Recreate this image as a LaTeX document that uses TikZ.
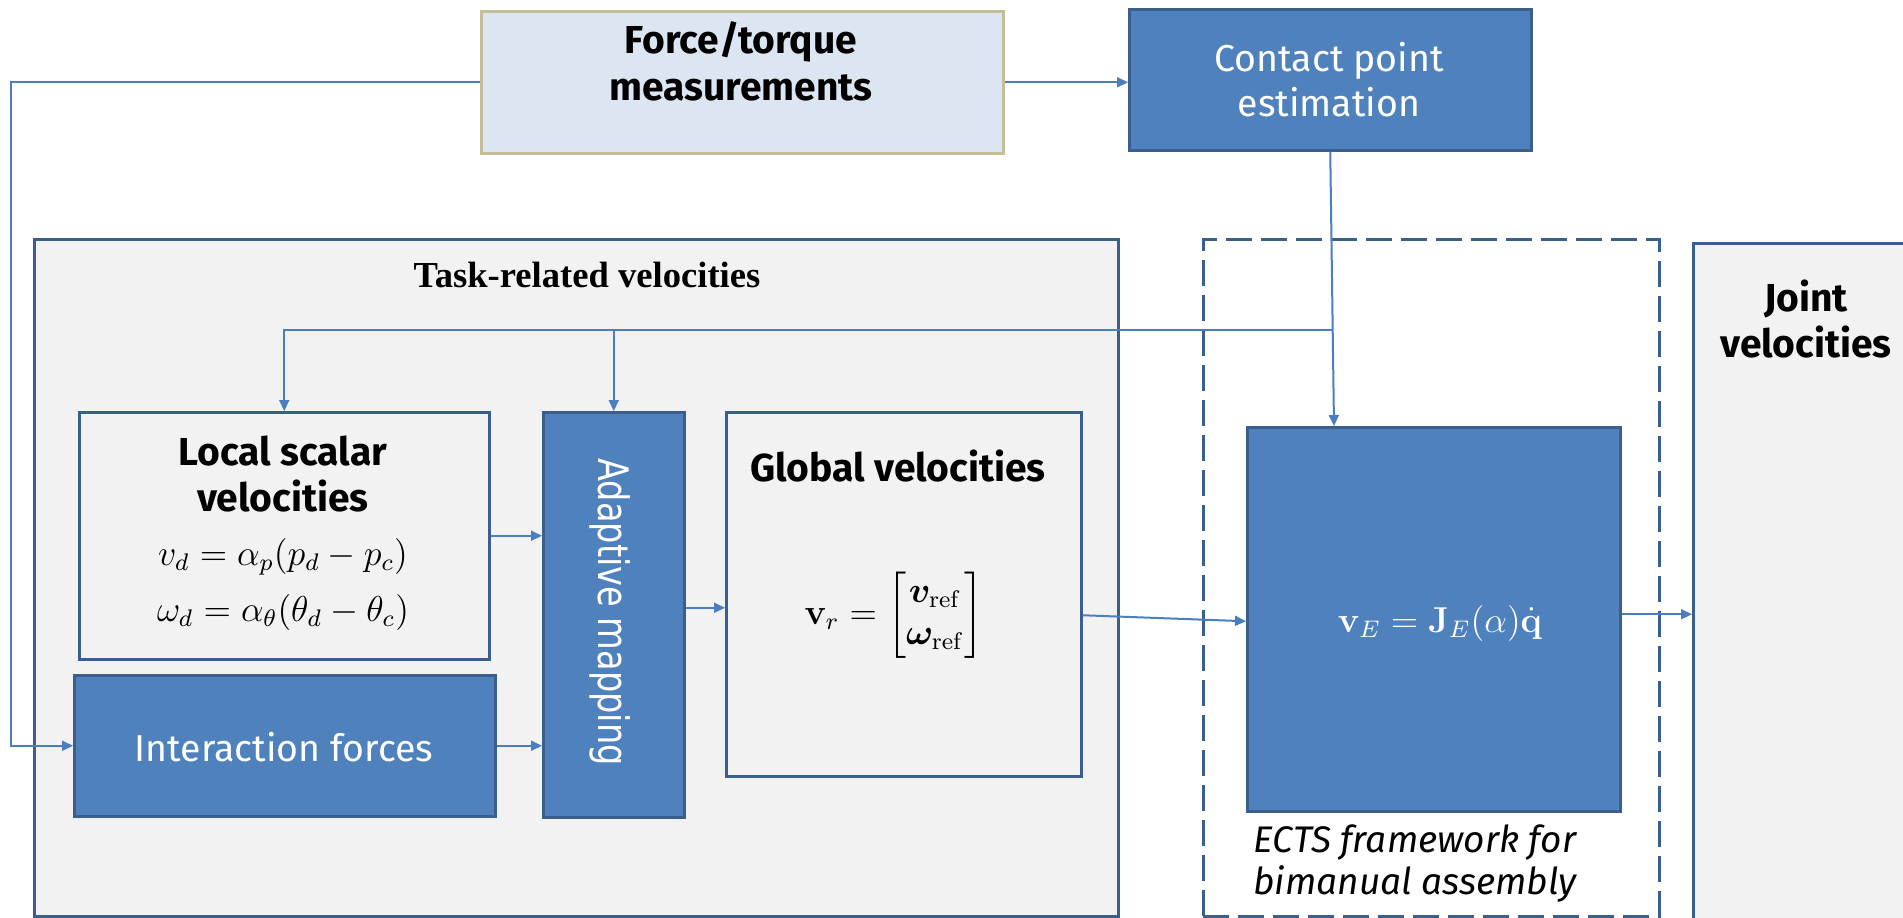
\documentclass[tikz,border=0pt]{standalone}
\usepackage{amsmath,bm}
\usepackage[no-math]{fontspec}
\newfontfamily\ufont{Fira Sans}
\newfontfamily\dvfont{DejaVu Sans}
\newfontfamily\serifbold{Liberation Serif}
\usetikzlibrary{arrows.meta,calc}
\definecolor{bfill}{HTML}{4F81BD}
\definecolor{frame}{HTML}{3A5F8D}
\definecolor{conncol}{HTML}{4A7EC0}
\definecolor{graybg}{HTML}{F2F2F2}
\definecolor{lightfill}{HTML}{DCE6F2}
\definecolor{tan}{HTML}{C4BD97}
\tikzset{
  box/.style={draw=frame, line width=2.5pt, inner sep=0pt, anchor=north west},
  bluebox/.style={box, fill=bfill},
  graybox/.style={box, fill=graybg},
  ttl/.style={font=\ufont\bfseries\fontsize{39}{46}\selectfont, align=center, inner sep=0pt},
  wtxt/.style={font=\ufont\fontsize{37.5}{45}\selectfont, align=center, inner sep=0pt, text=white},
  mth/.style={font=\fontsize{12}{14}\selectfont, inner sep=0pt, scale=3},
  conn/.style={draw=conncol, line width=2pt, -{Triangle[length=11pt,width=10pt]}},
}
\begin{document}
\begin{tikzpicture}[x=1pt,y=-1pt]
\useasboundingbox (0,0) rectangle (1903,918);
\clip (0,0) rectangle (1903,918);
% big frames
\node[graybox, minimum width=1084, minimum height=677] (task) at (33,238) {};
\node[box, dash pattern=on 26pt off 9pt, minimum width=456, minimum height=677] (dash) at (1202,238) {};
\node[graybox, minimum width=240, minimum height=700] (joint) at (1692,242) {};
% top boxes
\node[box, draw=tan, fill=lightfill, minimum width=522, minimum height=142] (force) at (480,10) {};
\node[bluebox, minimum width=402, minimum height=141] (contact) at (1128,8) {};
% inner boxes
\node[graybox, minimum width=410, minimum height=247] (local) at (78,411) {};
\node[bluebox, minimum width=421, minimum height=141] (inter) at (73,674) {};
\node[bluebox, minimum width=141, minimum height=405] (adapt) at (542,411) {};
\node[graybox, minimum width=355, minimum height=364] (global) at (725,411) {};
\node[bluebox, minimum width=373, minimum height=384] (ects) at (1246,426) {};
% texts
\node[font=\ufont\bfseries\fontsize{39}{47}\selectfont, align=center, inner sep=0pt] (forcetxt) at (741,61) {Force/torque\\measurements};
\node[wtxt] (contacttxt) at (1329,80) {Contact point\\estimation};
\node[font=\serifbold\bfseries\fontsize{36.6}{40}\selectfont, inner sep=0pt] (tasktxt) at (587,275) {Task-related velocities};
\node[ttl] (localtxt) at (283,474) {Local scalar\\velocities};
\node[mth] (eq1) at (283,557) {$v_d = \alpha_p(p_d - p_c)$};
\node[mth] (eq2) at (283,612) {$\omega_d = \alpha_\theta(\theta_d - \theta_c)$};
\node[wtxt] (intertxt) at (284,747) {Interaction forces};
\node[font=\dvfont\fontsize{42}{48}\selectfont, text=white, rotate=-90, xscale=0.8, inner sep=0pt] (adapttxt) at (610,612) {Adaptive mapping};
\node[ttl] (globaltxt) at (898,466) {Global velocities};
\node[mth] (geq) at (894,615) {$\mathbf{v}_r = \begin{bmatrix}\bm{v}_{\mathrm{ref}}\\ \bm{\omega}_{\mathrm{ref}}\end{bmatrix}$};
\node[mth, text=white] (eeq) at (1440,623) {$\mathbf{v}_E = \mathbf{J}_E(\alpha)\dot{\mathbf{q}}$};
\node[font=\ufont\itshape\fontsize{37}{42}\selectfont, align=center, inner sep=0pt] (ectstxt) at (1415,864) {ECTS framework for\\bimanual assembly};
\node[ttl] (jointtxt) at (1806,319) {Joint\\velocities};
% connectors
\coordinate (fbx) at (11,400);
\draw[conn] (force.west) -| (fbx) |- (inter.west);
\draw[conn] (force.east) -- (contact.west |- force.east);
\coordinate (cpin) at ($(ects.north west)+(88,0)$);
\draw[conn] (contact.south) -- (cpin);
\coordinate (jn) at ($(contact.south)!0.652!(cpin)$);
\draw[conn] (jn) -| (local.north);
\draw[conn] (adapt.north |- jn) -- (adapt.north);
\draw[conn] (local.east) -- (adapt.west |- local.east);
\draw[conn] (inter.east) -- (adapt.west |- inter.east);
\draw[conn] ([yshift=7pt]adapt.east) -- ([yshift=7pt]adapt.east -| global.west);
\draw[conn] ([yshift=-21pt]global.east) -- ([yshift=-2pt]ects.west);
\draw[conn] ([yshift=5pt]ects.east) -- ([yshift=5pt]ects.east -| joint.west);
\end{tikzpicture}
\end{document}
